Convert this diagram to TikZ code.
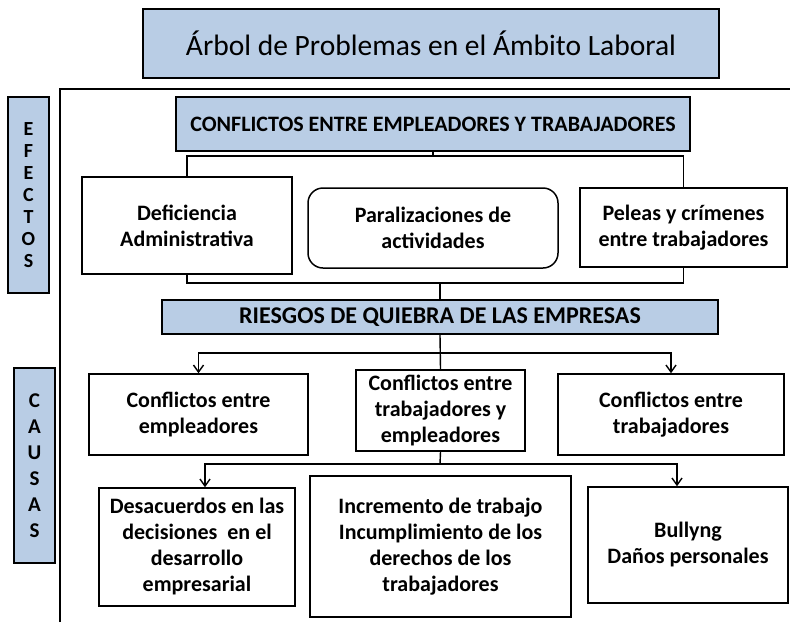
\documentclass[tikz,border=0pt]{standalone}
\usepackage{fontspec}
\setmainfont{Carlito}
\usetikzlibrary{arrows.meta}
\definecolor{azulclaro}{RGB}{185,205,229}
\tikzset{
  caja/.style={draw, line width=1.5pt, align=center, inner sep=0pt,
    font=\bfseries\fontsize{22}{26}\selectfont},
  cajaazul/.style={caja, fill=azulclaro},
  letras/.style={cajaazul, minimum width=41, font=\bfseries\fontsize{20}{22}\selectfont},
  conector/.style={line width=1.4pt},
  flecha/.style={conector, -{Straight Barb[length=7pt,width=10pt]}},
}
\begin{document}
\begin{tikzpicture}[x=1pt,y=-1pt]
  \useasboundingbox (0,0) rectangle (790,622);
  % marco
  \draw[line width=1.4pt] (60,622) -- (60,89) -- (790,89);
  % titulo y columnas laterales
  \node[cajaazul, minimum width=576, minimum height=69, font=\fontsize{29.5}{34}\selectfont]
    (titulo) at (431,43.5) {Árbol de Problemas en el Ámbito Laboral};
  \node[letras, minimum height=196] (efectos) at (28.5,195) {E\\F\\E\\C\\T\\O\\S};
  \node[letras, minimum height=195, font=\bfseries\fontsize{21}{26}\selectfont]
    (causas) at (34.5,465.5) {C\\A\\U\\S\\A\\S};
  % efectos
  \node[cajaazul, minimum width=514, minimum height=54] (cee) at (433,124)
    {CONFLICTOS ENTRE EMPLEADORES Y TRABAJADORES};
  \node[caja, minimum width=210, minimum height=97] (deficiencia) at (187,225.5)
    {Deficiencia\\Administrativa};
  \node[caja, rounded corners=15pt, minimum width=250, minimum height=80] (paralizaciones) at (433,228)
    {Paralizaciones de\\actividades};
  \node[caja, minimum width=207, minimum height=79] (peleas) at (683.5,227.5)
    {Peleas y crímenes\\entre trabajadores};
  \node[cajaazul, minimum width=556, minimum height=34, font=\bfseries\fontsize{24}{28}\selectfont]
    (riesgos) at (440,317) {RIESGOS DE QUIEBRA DE LAS EMPRESAS};
  % causas
  \node[caja, minimum width=219, minimum height=81] (cempleadores) at (198.5,414.5)
    {Conflictos entre\\empleadores};
  \node[caja, minimum width=169, minimum height=81] (cambos) at (440.5,410.5)
    {Conflictos entre\\trabajadores y\\empleadores};
  \node[caja, minimum width=226, minimum height=81] (ctrabajadores) at (671,414.5)
    {Conflictos entre\\trabajadores};
  \node[caja, minimum width=196, minimum height=118] (desacuerdos) at (197,547)
    {Desacuerdos en las\\decisiones\ \ en el\\desarrollo\\empresarial};
  \node[caja, minimum width=261, minimum height=141] (incremento) at (440.5,546.5)
    {Incremento de trabajo\\Incumplimiento de los\\derechos de los\\trabajadores};
  \node[caja, minimum width=200, minimum height=116] (bullyng) at (688,545)
    {Bullyng\\Daños personales};
  % conectores
  \coordinate (barra1) at (433,156);
  \coordinate (barra2) at (440,283);
  \coordinate (barra3) at (440,353);
  \coordinate (barra4) at (440,464);
  \draw[conector] (cee.south) -- (barra1);
  \draw[conector] (deficiencia.north) |- (barra1) -| (peleas.north);
  \draw[conector] (deficiencia.south) |- (barra2) -| (peleas.south);
  \draw[conector] (barra2) -- (riesgos.north);
  \draw[conector] (riesgos.south) -- (cambos.north);
  \draw[flecha] (barra3) -| (cempleadores.north);
  \draw[flecha] (barra3) -| (ctrabajadores.north);
  \draw[conector] (cambos.south) -- (barra4);
  \draw[flecha] (barra4) -| ([xshift=8]desacuerdos.north);
  \draw[flecha] (barra4) -| ([xshift=-11]bullyng.north);
\end{tikzpicture}
\end{document}
